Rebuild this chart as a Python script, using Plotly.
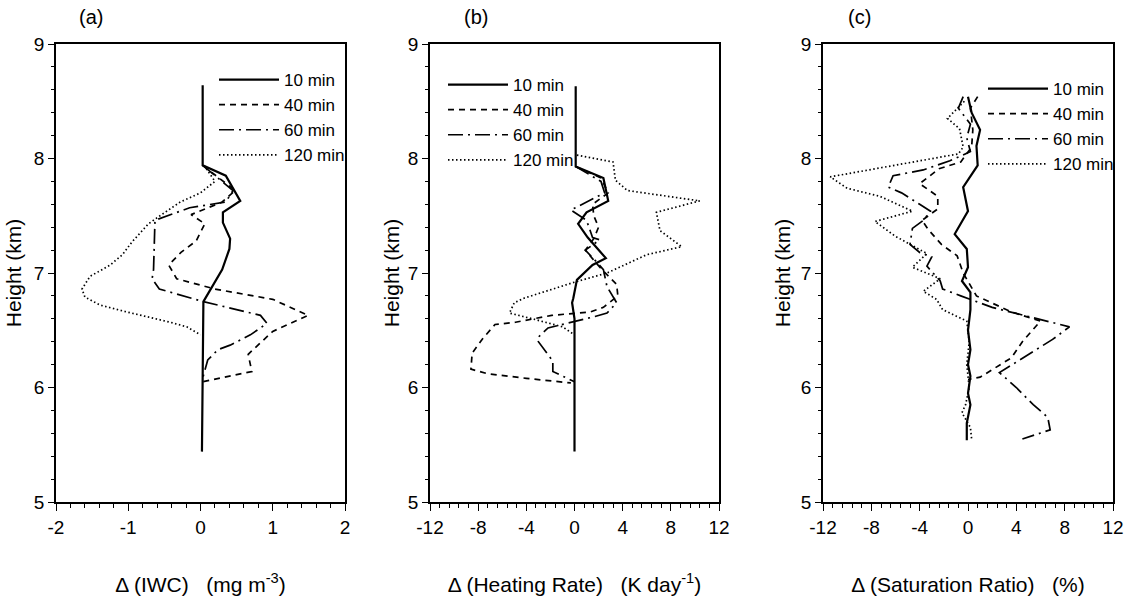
import plotly.graph_objects as go

# ---------------- data ----------------
series_names = ["10 min", "40 min", "60 min", "120 min"]

# Panel (a): Delta IWC (mg m-3)
h10a = [8.64, 7.94, 7.85, 7.63, 7.53, 7.44, 7.30, 7.21, 7.03, 6.90, 6.75, 5.44]
v10a = [0.03, 0.03, 0.35, 0.55, 0.31, 0.31, 0.41, 0.40, 0.30, 0.18, 0.04, 0.02]
h40a = [7.94, 7.72, 7.62, 7.51, 7.43, 7.28, 7.18, 7.07, 6.95, 6.86, 6.77, 6.63, 6.49, 6.29, 6.14, 6.05]
v40a = [0.03, 0.48, 0.30, -0.13, 0.06, -0.06, -0.27, -0.44, -0.33, 0.20, 1.00, 1.49, 1.00, 0.66, 0.71, 0.03]
h60a = [7.94, 7.72, 7.62, 7.57, 7.46, 7.03, 6.95, 6.86, 6.75, 6.63, 6.56, 6.46, 6.37, 6.33, 6.24, 6.08]
v60a = [0.03, 0.45, 0.35, -0.15, -0.63, -0.65, -0.67, -0.57, 0.04, 0.83, 0.92, 0.69, 0.41, 0.24, 0.10, 0.03]
h120a = [7.94, 7.80, 7.70, 7.62, 7.50, 7.43, 7.27, 7.16, 7.07, 6.97, 6.86, 6.79, 6.72, 6.66, 6.57, 6.53, 6.46]
v120a = [0.05, 0.20, 0.0, -0.28, -0.56, -0.72, -0.95, -1.08, -1.25, -1.53, -1.64, -1.60, -1.39, -1.02, -0.42, -0.19, 0.0]

# Panel (b): Delta heating rate (K day-1)
h10b = [8.63, 7.93, 7.83, 7.63, 7.53, 7.43, 7.31, 7.13, 7.07, 6.94, 6.78, 6.74, 6.60, 5.44]
v10b = [0.1, 0.1, 2.4, 2.8, 1.0, 0.3, 1.1, 2.6, 1.5, 0.2, -0.1, -0.2, 0.0, 0.0]
h40b = [7.93, 7.83, 7.70, 7.60, 7.50, 7.40, 7.30, 7.20, 7.05, 6.90, 6.80, 6.70, 6.66, 6.63, 6.57, 6.55, 6.43, 6.30, 6.16, 6.12, 6.08, 6.04]
v40b = [0.1, 2.2, 2.8, 1.5, 1.6, 2.0, 1.6, 0.9, 2.1, 3.5, 3.6, 2.4, 1.3, -1.9, -4.9, -6.6, -7.6, -8.5, -8.6, -7.2, -4.0, -0.3]
h60b = [7.93, 7.80, 7.70, 7.55, 7.46, 7.31, 7.29, 7.20, 7.10, 7.03, 6.88, 6.74, 6.65, 6.62, 6.52, 6.43, 6.40, 6.31, 6.23, 6.14, 6.09, 6.05]
v60b = [0.1, 2.2, 2.5, -0.3, 1.0, 1.5, 2.1, 0.9, 1.8, 2.4, 2.7, 3.5, 2.7, 1.7, -2.2, -3.1, -3.0, -2.4, -1.8, -1.8, -0.8, 0.0]
h120b = [8.03, 7.97, 7.81, 7.72, 7.63, 7.53, 7.37, 7.23, 7.16, 7.00, 6.92, 6.78, 6.74, 6.65, 6.60, 6.53, 6.46]
v120b = [0.2, 3.2, 3.4, 4.4, 10.4, 6.8, 7.1, 8.9, 6.0, 2.7, 0.0, -4.2, -5.0, -5.4, -3.5, -1.0, 0.0]

# Panel (c): Delta saturation ratio (%)
h10c = [8.54, 8.40, 8.25, 8.11, 7.94, 7.75, 7.54, 7.34, 7.21, 7.05, 6.93, 6.83, 6.68, 6.50, 6.33, 6.20, 6.10, 5.95, 5.85, 5.69, 5.54]
v10c = [0.0, 0.3, 1.0, 0.7, 0.8, -0.4, 0.0, -1.1, -0.1, 0.0, -0.5, 0.2, 0.2, 0.0, 0.2, 0.0, 0.2, 0.0, 0.2, -0.1, -0.1]
h40c = [8.54, 8.44, 8.25, 8.10, 7.97, 7.91, 7.78, 7.67, 7.56, 7.46, 7.38, 7.25, 7.15, 7.00, 6.80, 6.73, 6.66, 6.58, 6.51, 6.40, 6.26, 6.09, 6.07]
v40c = [0.8, 0.2, 0.4, 0.3, -0.6, -2.4, -4.0, -2.5, -2.5, -3.8, -3.3, -2.2, -0.9, -0.4, 0.7, 2.1, 3.6, 6.0, 5.4, 4.5, 3.6, 1.0, 0.0]
h60c = [8.54, 8.44, 8.30, 8.18, 8.06, 7.98, 7.90, 7.85, 7.75, 7.70, 7.60, 7.54, 7.46, 7.39, 7.25, 7.18, 7.14, 7.06, 6.93, 6.86, 6.80, 6.70, 6.62, 6.53, 6.42, 6.22, 6.13, 6.00, 5.85, 5.74, 5.63, 5.55]
v60c = [-0.4, -0.8, 0.2, -0.1, 0.2, -1.5, -3.7, -6.2, -6.6, -5.5, -4.0, -3.1, -3.7, -4.6, -4.8, -4.0, -3.0, -3.4, -2.3, -2.1, -0.6, 2.0, 5.0, 8.4, 7.0, 4.0, 2.6, 4.0, 5.4, 6.6, 6.8, 4.5]
h120c = [8.50, 8.35, 8.26, 8.10, 8.04, 7.84, 7.74, 7.67, 7.54, 7.45, 7.32, 7.17, 7.05, 6.95, 6.84, 6.77, 6.68, 6.58, 6.40, 6.20, 6.00, 5.85, 5.78, 5.65, 5.55]
v120c = [-0.3, -1.7, -0.7, -0.4, -0.8, -11.4, -10.0, -7.3, -4.6, -7.7, -6.0, -3.4, -4.6, -2.3, -3.7, -2.6, -2.1, -0.1, 0.1, -0.1, 0.1, -0.2, -0.5, 0.2, 0.3]

# tick labels
y_ticks = [5, 6, 7, 8, 9]
x_ticks_a = [-2, -1, 0, 1, 2]
x_ticks_bc = [-12, -8, -4, 0, 4, 8, 12]
SP = "\u00a0\u00a0\u00a0"
x_titles = ["Δ (IWC)" + SP + "(mg m<sup>-3</sup>)",
            "Δ (Heating Rate)" + SP + "(K day<sup>-1</sup>)",
            "Δ (Saturation Ratio)" + SP + "(%)"]
panel_labels = ["(a)", "(b)", "(c)"]

# ---------------- styling ----------------
FONT = "Liberation Sans, Arial, Helvetica, sans-serif"
dashes = ["solid", "6px,5px", "15px,5px,2px,5px", "1.5px,2.5px"]
widths = [2.2, 1.7, 1.7, 1.7]

panels = [
    ([v10a, v40a, v60a, v120a], [h10a, h40a, h60a, h120a]),
    ([v10b, v40b, v60b, v120b], [h10b, h40b, h60b, h120b]),
    ([v10c, v40c, v60c, v120c], [h10c, h40c, h60c, h120c]),
]
legend_ids = ["legend", "legend2", "legend3"]

fig = go.Figure()
for p, (xs, ys) in enumerate(panels):
    sfx = "" if p == 0 else str(p + 1)
    for i in range(4):
        fig.add_trace(go.Scatter(
            x=xs[i], y=ys[i], mode="lines", name=series_names[i],
            line=dict(color="black", width=widths[i], dash=dashes[i]),
            xaxis="x" + sfx, yaxis="y" + sfx,
            legend=legend_ids[p], legendgroup=f"{p}-{i}",
        ))

W, H = 1130, 607
x_dom = [(56 / W, 345 / W), (430 / W, 719 / W), (823 / W, 1113 / W)]
y_dom = (1 - 502 / H, 1 - 44 / H)
y_standoff = [6, 2, 4]

def xaxis(p):
    if p == 0:
        rng, tv, mdt = [-2, 2], x_ticks_a, 0.2
    else:
        rng, tv, mdt = [-12, 12], x_ticks_bc, 0.8
    return dict(
        domain=x_dom[p], range=rng, anchor="y" if p == 0 else f"y{p+1}",
        tickvals=tv, ticktext=[str(t) for t in tv],
        ticks="outside", ticklen=7, tickwidth=1, tickcolor="black",
        minor=dict(ticks="outside", ticklen=4, dtick=mdt, tick0=rng[0], tickcolor="black", tickwidth=1),
        showline=True, linecolor="black", linewidth=1.6, mirror=True,
        showgrid=False, zeroline=False, automargin=False,
        tickfont=dict(family=FONT, size=19, color="black"),
        title=dict(text=x_titles[p], font=dict(family=FONT, size=21, color="black"), standoff=41),
    )

def yaxis(p):
    return dict(
        domain=y_dom, range=[5, 9], anchor="x" if p == 0 else f"x{p+1}",
        tickvals=y_ticks, ticktext=[str(t) for t in y_ticks],
        ticks="outside", ticklen=6, tickwidth=1, tickcolor="black",
        minor=dict(ticks="outside", ticklen=3, dtick=0.2, tick0=5, tickcolor="black", tickwidth=1),
        showline=True, linecolor="black", linewidth=1.6, mirror=True,
        showgrid=False, zeroline=False, automargin=False,
        tickfont=dict(family=FONT, size=19, color="black"),
        title=dict(text="Height (km)", font=dict(family=FONT, size=21, color="black"), standoff=y_standoff[p]),
    )

layout = dict(
    width=W, height=H, margin=dict(l=0, r=0, t=0, b=0, autoexpand=False),
    paper_bgcolor="white", plot_bgcolor="white",
    font=dict(family=FONT, size=17, color="black"),
    showlegend=True,
)
for p in range(3):
    sfx = "" if p == 0 else str(p + 1)
    layout["xaxis" + sfx] = xaxis(p)
    layout["yaxis" + sfx] = yaxis(p)

leg_common = dict(bgcolor="rgba(0,0,0,0)", borderwidth=0, font=dict(family=FONT, size=17, color="black"),
                  tracegroupgap=0, itemwidth=60, yanchor="top", xanchor="left")
layout["legend"] = dict(leg_common, x=214 / W, y=1 - 62 / H)
layout["legend2"] = dict(leg_common, x=443 / W, y=1 - 67 / H)
layout["legend3"] = dict(leg_common, x=983 / W, y=1 - 71 / H)

ann = []
label_x = [91, 476, 859]
for p in range(3):
    ann.append(dict(text=panel_labels[p], x=label_x[p] / W, y=1 - 17 / H, xref="paper", yref="paper",
                    showarrow=False, font=dict(family=FONT, size=20, color="black"),
                    xanchor="center", yanchor="middle"))
layout["annotations"] = ann

fig.update_layout(**layout)
fig.write_html("out.html", config={"displayModeBar": False},
               post_script="document.body.style.margin='0px';document.body.style.overflow='hidden';")
